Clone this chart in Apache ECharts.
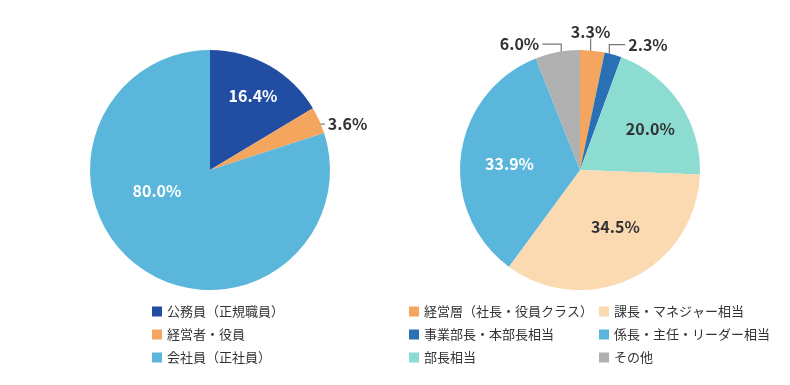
<!DOCTYPE html>
<html>
<head>
<meta charset="utf-8">
<script src="https://cdn.jsdelivr.net/npm/echarts@6/dist/echarts.min.js"></script>
<style>
html,body{margin:0;padding:0;background:#fff;}
#chart{width:790px;height:385px;}
</style>
</head>
<body>
<div id="chart"></div>
<script>
// ---- data ----
const leftCategories = ['公務員（正規職員）', '経営者・役員', '会社員（正社員）'];
const leftValues = [16.4, 3.6, 80.0];
const rightCategories = ['経営層（社長・役員クラス）', '事業部長・本部長相当', '部長相当', '課長・マネジャー相当', '係長・主任・リーダー相当', 'その他'];
const rightValues = [3.3, 2.3, 20.0, 34.5, 33.9, 6.0];

// ---- styles ----
const leftColors = ['#214ea3', '#f4a55e', '#5bb6db'];
const rightColors = ['#f4a55e', '#2a70b4', '#8ddcd2', '#fbd9b1', '#5bb6db', '#b0b0b0'];
// label style per slice: 'in' = inside, otherwise outside placement type
const leftLabelKind = ['in', 'side', 'in'];
const rightLabelKind = ['top', 'elbowRight', 'in', 'in', 'in', 'elbowLeft'];
const leftInsideColor = ['#fff', '#333', '#fff'];
const rightInsideColor = ['#333', '#333', '#333', '#333', '#fff', '#333'];
// nudges for inside labels [dx, dy]
const leftNudge = [[12, -19], [0, 0], [-16, -30]];
const rightNudge = [[0, 0], [0, 0], [18, -6], [8, 0], [-8, 2], [0, 0]];

const FONT = '"Noto Sans CJK JP", "Noto Sans", sans-serif';

function buildData(names, values, colors, kinds, labelColors) {
  return names.map((n, i) => {
    const inside = kinds[i] === 'in';
    return {
      name: n,
      value: values[i],
      itemStyle: { color: colors[i] },
      label: inside
        ? { position: 'inside', color: labelColors[i] }
        : { position: 'outside', color: '#333' },
      labelLine: { show: !inside, length: 10, length2: 10 }
    };
  });
}

function makeLayout(kinds, nudge) {
  return function (params) {
    const i = params.dataIndex;
    const kind = kinds[i];
    if (kind === 'in') {
      return { dx: nudge[i][0], dy: nudge[i][1] };
    }
    const pts = params.labelLinePoints;
    if (!pts) return {};
    const p0 = pts[0], p1 = pts[1];
    const lx = p1[0] - p0[0], ly = p1[1] - p0[1];
    const len = Math.sqrt(lx * lx + ly * ly) || 1;
    const ux = lx / len, uy = ly / len;
    if (kind === 'side') {
      const s = [p0[0] - ux * 7, p0[1] - uy * 7 + 1];
      const e = [s[0] + 12, s[1]];
      return { x: e[0] + 3, y: e[1], align: 'left', verticalAlign: 'middle', labelLinePoints: [s, e, e] };
    }
    if (kind === 'top') {
      const s = [p0[0] - ux * 3 - 1.5, p0[1] - uy * 3];
      const e = [s[0], s[1] - 15];
      return { x: e[0], y: e[1] + 1, align: 'center', verticalAlign: 'bottom', labelLinePoints: [s, e, e] };
    }
    if (kind === 'elbowRight') {
      const s = [p0[0] - ux * 3 - 3, p0[1] - uy * 3];
      const c = [s[0], s[1] - 13];
      const e = [c[0] + 16, c[1]];
      return { x: e[0] + 3, y: e[1], align: 'left', verticalAlign: 'middle', labelLinePoints: [s, c, e] };
    }
    if (kind === 'elbowLeft') {
      const s = [p0[0] - ux * 4 + 3, p0[1] - uy * 4];
      const c = [s[0], s[1] - 12];
      const e = [c[0] - 19, c[1]];
      return { x: e[0] - 3, y: e[1], align: 'right', verticalAlign: 'middle', labelLinePoints: [s, c, e] };
    }
    return {};
  };
}

const commonSeries = {
  type: 'pie',
  radius: 120,
  startAngle: 90,
  clockwise: true,
  silent: true,
  animation: false,
  avoidLabelOverlap: false,
  label: {
    show: true,
    formatter: p => p.value.toFixed(1) + '%',
    fontFamily: FONT,
    fontWeight: 'bold',
    fontSize: 16
  },
  labelLine: { lineStyle: { color: '#777', width: 1.2 } },
  itemStyle: { borderWidth: 0 },
  emphasis: { disabled: true }
};

const legendCommon = {
  orient: 'vertical',
  itemWidth: 10,
  itemHeight: 10,
  itemGap: 10,
  icon: 'rect',
  selectedMode: false,
  textStyle: { fontFamily: FONT, fontSize: 13, color: '#333' }
};

const chart = echarts.init(document.getElementById('chart'), null, { renderer: 'canvas' });
chart.setOption({
  backgroundColor: '#fff',
  animation: false,
  legend: [
    Object.assign({}, legendCommon, { left: 147, top: 300, data: leftCategories }),
    Object.assign({}, legendCommon, { left: 404, top: 300, data: rightCategories.slice(0, 3) }),
    Object.assign({}, legendCommon, { left: 594, top: 300, data: rightCategories.slice(3) })
  ],
  series: [
    Object.assign({}, commonSeries, {
      name: 'left',
      center: [210, 170],
      data: buildData(leftCategories, leftValues, leftColors, leftLabelKind, leftInsideColor),
      labelLayout: makeLayout(leftLabelKind, leftNudge)
    }),
    Object.assign({}, commonSeries, {
      name: 'right',
      center: [580, 170],
      data: buildData(rightCategories, rightValues, rightColors, rightLabelKind, rightInsideColor),
      labelLayout: makeLayout(rightLabelKind, rightNudge)
    })
  ]
});
</script>
</body>
</html>
